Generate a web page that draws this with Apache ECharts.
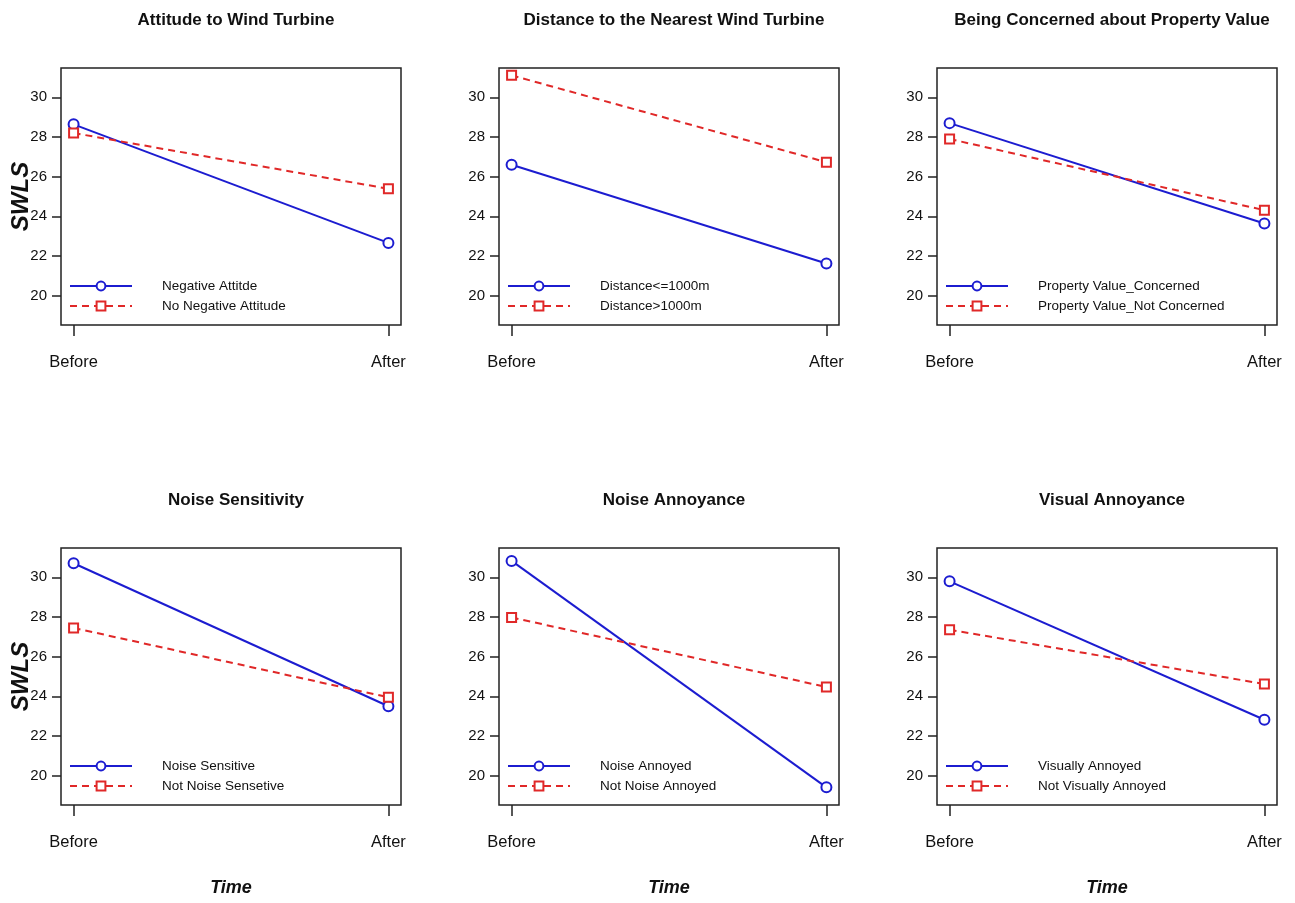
<!DOCTYPE html>
<html>
<head>
<meta charset="utf-8">
<script src="https://cdn.jsdelivr.net/npm/echarts@6/dist/echarts.min.js"></script>
<style>
html,body{margin:0;padding:0;background:#fff;}
#chart{width:1295px;height:903px;}
</style>
</head>
<body>
<div id="chart"></div>
<script>
const categories = ['Before', 'After'];
const panelTitles = ['Attitude to Wind Turbine', 'Distance to the Nearest Wind Turbine', 'Being Concerned about Property Value',
  'Noise Sensitivity', 'Noise Annoyance', 'Visual Annoyance'];
const blueNames = ['Negative Attitde', 'Distance<=1000m', 'Property Value_Concerned', 'Noise Sensitive', 'Noise Annoyed', 'Visually Annoyed'];
const redNames = ['No Negative Attitude', 'Distance>1000m', 'Property Value_Not Concerned', 'Not Noise Sensetive', 'Not Noise Annoyed', 'Not Visually Annoyed'];
const blueBefore = [28.64, 26.60, 28.70, 30.71, 30.83, 29.80];
const blueAfter  = [22.66, 21.62, 23.64, 23.50, 19.41, 22.82];
const redBefore  = [28.20, 31.11, 27.90, 27.45, 27.98, 27.36];
const redAfter   = [25.39, 26.73, 24.31, 23.95, 24.47, 24.62];
const yTicks = [20, 22, 24, 26, 28, 30];
const yLabel = 'SWLS';
const xLabel = 'Time';

const FONT = '"Liberation Sans", Arial, Helvetica, sans-serif';
const BLUE = '#1c1cd0';
const RED = '#e02828';
const lefts = [61, 499, 937];
const tops = [68, 548];
const W = 340, H = 257;

const grids = [], xAxes = [], yAxes = [], series = [], titles = [], legends = [];
for (let i = 0; i < 6; i++) {
  const col = i % 3, row = Math.floor(i / 3);
  const L = lefts[col], T = tops[row];
  grids.push({left: L, top: T, width: W, height: H, show: true, borderColor: '#222', borderWidth: 1.5, backgroundColor: 'transparent'});
  xAxes.push({
    type: 'value', gridIndex: i, min: 0.96, max: 2.04,
    axisLine: {show: false}, splitLine: {show: false},
    axisTick: {show: true, length: 11, customValues: [1, 2], lineStyle: {color: '#222', width: 1.5}},
    axisLabel: {customValues: [1, 2], formatter: v => categories[Math.round(v) - 1], fontFamily: FONT, fontSize: 16.5, color: '#111', margin: 29},
    name: row === 1 ? xLabel : '', nameLocation: 'middle', nameGap: 74, nameMoveOverlap: false,
    nameTextStyle: {fontFamily: FONT, fontSize: 18, fontWeight: 'bold', fontStyle: 'italic', color: '#111'}
  });
  yAxes.push({
    type: 'value', gridIndex: i, min: 18.52, max: 31.48,
    axisLine: {show: false}, splitLine: {show: false},
    axisTick: {show: true, length: 9, customValues: yTicks, lineStyle: {color: '#222', width: 1.5}},
    axisLabel: {customValues: yTicks, fontFamily: FONT, fontSize: 15, color: '#111', margin: 14},
    name: col === 0 ? yLabel : '', nameLocation: 'middle', nameGap: 28, nameRotate: 90, nameMoveOverlap: false,
    nameTextStyle: {fontFamily: FONT, fontSize: 24, fontWeight: 'bold', fontStyle: 'italic', color: '#111'}
  });
  series.push({
    type: 'line', name: blueNames[i], xAxisIndex: i, yAxisIndex: i,
    data: [[1, blueBefore[i]], [2, blueAfter[i]]],
    symbol: 'emptyCircle', symbolSize: 10, color: BLUE,
    lineStyle: {color: BLUE, width: 2, type: 'solid'},
    itemStyle: {color: BLUE, borderColor: BLUE, borderWidth: 1.5},
    animation: false, silent: true
  });
  series.push({
    type: 'line', name: redNames[i], xAxisIndex: i, yAxisIndex: i,
    data: [[1, redBefore[i]], [2, redAfter[i]]],
    symbol: 'emptyRect', symbolSize: 9, color: RED,
    lineStyle: {color: RED, width: 2, type: [7, 5]},
    itemStyle: {color: RED, borderColor: RED, borderWidth: 1.5},
    animation: false, silent: true
  });
  titles.push({
    text: panelTitles[i], left: L + W / 2, top: T - 61, textAlign: 'center',
    textStyle: {fontFamily: FONT, fontSize: 17, fontWeight: 'bold', color: '#111'}
  });
  legends.push({
    data: [blueNames[i], redNames[i]], orient: 'vertical', left: L + 3, top: T + 206,
    itemWidth: 62, itemHeight: 11, itemGap: 6, selectedMode: false,
    textStyle: {fontFamily: FONT, fontSize: 13.5, color: '#111', padding: [0, 0, 0, 25]}
  });
}

const chart = echarts.init(document.getElementById('chart'), null, {renderer: 'canvas'});
chart.setOption({
  animation: false,
  backgroundColor: '#fff',
  title: titles, legend: legends, grid: grids, xAxis: xAxes, yAxis: yAxes, series: series
});
</script>
</body>
</html>
